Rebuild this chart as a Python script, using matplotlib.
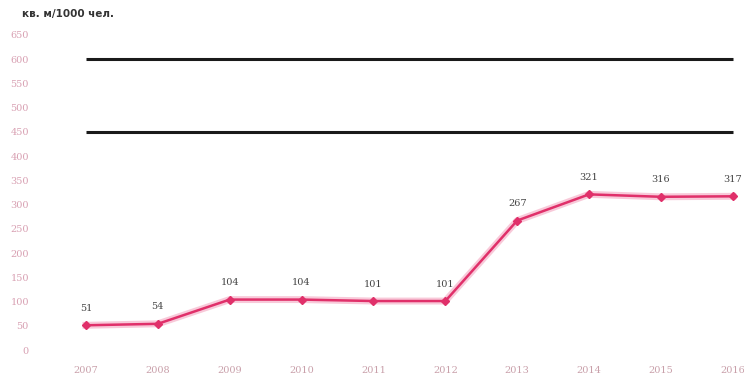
import matplotlib.pyplot as plt
from matplotlib.ticker import MultipleLocator

years = [2007, 2008, 2009, 2010, 2011, 2012, 2013, 2014, 2015, 2016]
values = [51, 54, 104, 104, 101, 101, 267, 321, 316, 317]
labels = ['51', '54', '104', '104', '101', '101', '267', '321', '316', '317']
norm_levels = [600, 450]
y_title = 'кв. м/1000 чел.'

fig = plt.figure(figsize=(7.44, 3.82), dpi=100)
ax = fig.add_axes([40 / 744, 1 - 355 / 382, 700 / 744, 325 / 382])

for lvl in norm_levels:
    ax.plot([years[0], years[-1]], [lvl, lvl], color='#1a1a1a', lw=2.2, solid_capstyle='butt')

# soft glow under the main line
ax.plot(years, values, color='#f4a6c0', lw=5, alpha=0.6, zorder=2)
ax.plot(years, values, color='#e0306a', lw=1.8, marker='D', ms=4, zorder=3)

for x, y, t in zip(years, values, labels):
    ax.annotate(t, (x, y), xytext=(0, 9), textcoords='offset points',
                ha='center', va='bottom', fontsize=7, color='#444444', family='DejaVu Serif')

ax.set_xlim(2006.36, 2016.1)
ax.set_ylim(-10.3, 660)
ax.yaxis.set_major_locator(MultipleLocator(50))
ax.set_xticks(years)
ax.tick_params(length=0, labelsize=7)
ax.tick_params(axis='y', colors='#d8a0b2', pad=8)
ax.tick_params(axis='x', colors='#c9a0aa', pad=8)
for lab in ax.get_xticklabels() + ax.get_yticklabels():
    lab.set_family('DejaVu Serif')
for s in ax.spines.values():
    s.set_visible(False)

fig.text(22 / 744, 1 - 14 / 382, y_title, fontsize=7.5, color='#333333',
         fontweight='bold', va='center', ha='left')

fig.savefig('out.png', dpi=100)
